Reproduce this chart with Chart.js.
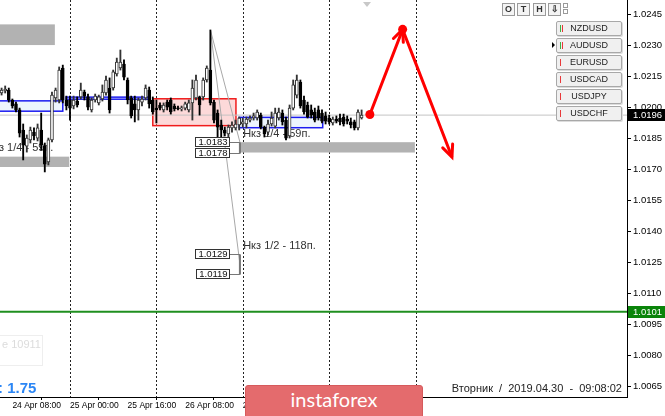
<!DOCTYPE html>
<html>
<head>
<meta charset="utf-8">
<script src="https://cdn.jsdelivr.net/npm/chart.js@4.4.1/dist/chart.umd.min.js"></script>
<style>
html, body { margin: 0; padding: 0; background: #fff; }
#wrap { position: relative; width: 665px; height: 416px; overflow: hidden; font-family: "Liberation Sans", Arial, sans-serif; }
#chart { position: absolute; left: 0; top: 0; }
.ov { position: absolute; pointer-events: none; }
.tb { position: absolute; top: 3px; width: 11px; height: 11px; border: 1px solid #9a9a9a; background: #f4f4f4; font: bold 9px "Liberation Sans", Arial; color: #333; text-align: center; line-height: 11px; }
.sq { position: absolute; left: 563px; width: 3px; height: 3px; border: 1px solid #9a9a9a; background: #fff; }
.pair { position: absolute; left: 556px; width: 64px; height: 13px; border: 1px solid #a8a8a8; border-radius: 2px; background: #f0f0f0; font: 9px "Liberation Sans", Arial; color: #222; line-height: 13px; text-align: center; box-shadow: 1px 1px 0 #dcdcdc; }
.pair i { position: absolute; top: 3px; width: 1px; height: 7px; }
.pair .g { background: #3cb043; }
.pair .r { background: #e8393a; }
</style>
</head>
<body>
<div id="wrap">
  <canvas id="chart" width="665" height="416"></canvas>

  <div class="ov" style="left:363px;top:2px;width:0;height:0;border-left:4px solid transparent;border-right:4px solid transparent;border-top:5px solid #c8c8c8;"></div>

  <div class="tb" style="left:502px">O</div>
  <div class="tb" style="left:517px">T</div>
  <div class="tb" style="left:533px">H</div>
  <div class="tb" style="left:548px">&#8681;</div>
  <div class="sq" style="top:3px"></div>
  <div class="sq" style="top:9px"></div>

  <div class="pair" style="top:21px"><i class="g" style="left:3px"></i><i class="r" style="left:5px"></i>NZDUSD</div>
  <div class="ov" style="left:552px;top:42px;width:0;height:0;border-left:3px solid #000;border-top:3px solid transparent;border-bottom:3px solid transparent;"></div>
  <div class="pair" style="top:38px"><i class="g" style="left:3px"></i><i class="r" style="left:5px"></i>AUDUSD</div>
  <div class="pair" style="top:55px"><i class="r" style="left:3px"></i>EURUSD</div>
  <div class="pair" style="top:72px"><i class="r" style="left:3px"></i>USDCAD</div>
  <div class="pair" style="top:89px"><i class="r" style="left:3px"></i>USDJPY</div>
  <div class="pair" style="top:106px"><i class="r" style="left:3px"></i>USDCHF</div>

  <div class="ov" style="left:-1px;top:335px;width:42px;height:29px;border:1px solid #eeeeee;"></div>
  <div class="ov" style="left:2px;top:338px;font:11px 'Liberation Sans',Arial;color:#dcdcdc;">e 10911</div>
  <div class="ov" style="left:-2px;top:379px;font:bold 15px 'Liberation Sans',Arial;color:#2b86f5;">: 1.75</div>

  <div class="ov" style="right:43px;top:382px;font:11px 'Liberation Sans',Arial;color:#222;white-space:pre;">Вторник  /  2019.04.30  -  09:08:02</div>

  <div class="ov" style="left:245px;top:385px;width:176px;height:34px;background:#e46b6d;border:1px solid #d65a5c;border-radius:3px;color:#fff;font:20px Lato,'Open Sans',sans-serif;text-align:center;line-height:27px;">instaforex</div>
</div>

<script>
// hourly bars, USDCHF H1
const sessions = [
    ['24 Apr', 5, 23],
    ['25 Apr', 0, 23],
    ['26 Apr', 0, 23],
    ['29 Apr', 0, 23],
    ['30 Apr', 0, 23],
    ['01 May', 0, 23]
];
const barTimes = [];
sessions.forEach(([day, from, to]) => {
    for (let h = from; h <= to; h++) barTimes.push(day + ' ' + String(h).padStart(2, '0') + ':00');
});

const open = [
    1.02068, 1.02078, 1.02082, 1.02034, 1.02015, 1.01986, 1.01889, 1.01811, 1.01841, 1.01879,
    1.01850, 1.01889, 1.01811, 1.01734, 1.01841, 1.02044, 1.02034, 1.02189, 1.02034, 1.02034,
    1.02005, 1.02029, 1.02049, 1.02073, 1.02049, 1.01986, 1.02034, 1.02020, 1.02039, 1.02068,
    1.02092, 1.02092, 1.02160, 1.02189, 1.02208, 1.02131, 1.02044, 1.02015, 1.01986, 1.02024,
    1.02044, 1.02082, 1.02034, 1.01995, 1.02010, 1.01986, 1.02024, 1.02034, 1.02005, 1.01995,
    1.01991, 1.01995, 1.01986, 1.02020, 1.02044, 1.02049, 1.02049, 1.02131, 1.02179, 1.02024,
    1.01971, 1.01913, 1.01889, 1.01870, 1.01899, 1.01899, 1.01913, 1.01918, 1.01918, 1.01937,
    1.01947, 1.01947, 1.01961, 1.01903, 1.01879, 1.01918, 1.01908, 1.01947, 1.01971, 1.01937,
    1.01860, 1.01995, 1.02058, 1.02121, 1.02034, 1.02010, 1.01986, 1.01976, 1.01986, 1.01971,
    1.01957, 1.01947, 1.01923, 1.01942, 1.01947, 1.01952, 1.01942, 1.01928, 1.01928, 1.01899,
    1.01947
];
const high = [
    1.02092, 1.02102, 1.02092, 1.02039, 1.02024, 1.01995, 1.01918, 1.01865, 1.01903, 1.01899,
    1.01918, 1.01971, 1.01826, 1.01850, 1.02073, 1.02092, 1.02194, 1.02203, 1.02053, 1.02053,
    1.02053, 1.02049, 1.02116, 1.02082, 1.02063, 1.02044, 1.02063, 1.02058, 1.02107, 1.02150,
    1.02141, 1.02179, 1.02237, 1.02276, 1.02228, 1.02141, 1.02053, 1.02053, 1.02044, 1.02053,
    1.02107, 1.02097, 1.02049, 1.02034, 1.02020, 1.02020, 1.02034, 1.02044, 1.02015, 1.02005,
    1.02005, 1.02024, 1.02034, 1.02131, 1.02155, 1.02053, 1.02141, 1.02199, 1.02373, 1.02034,
    1.01986, 1.01937, 1.01903, 1.01913, 1.01928, 1.01937, 1.01952, 1.01947, 1.01952, 1.01957,
    1.01971, 1.01986, 1.01971, 1.01908, 1.01937, 1.01976, 1.01995, 1.01995, 1.01986, 1.01952,
    1.02010, 1.02131, 1.02155, 1.02131, 1.02053, 1.02024, 1.02010, 1.01995, 1.02005, 1.01986,
    1.01976, 1.01961, 1.01952, 1.01957, 1.01966, 1.01966, 1.01957, 1.01947, 1.01937, 1.01986,
    1.01986
];
const low = [
    1.02058, 1.02068, 1.02024, 1.01995, 1.01976, 1.01855, 1.01744, 1.01782, 1.01826, 1.01841,
    1.01836, 1.01792, 1.01686, 1.01720, 1.01831, 1.02024, 1.02020, 1.02020, 1.01986, 1.01937,
    1.01991, 1.02000, 1.02039, 1.02034, 1.01986, 1.01976, 1.02024, 1.02010, 1.02029, 1.02058,
    1.01971, 1.02082, 1.02150, 1.02179, 1.02131, 1.02015, 1.01947, 1.01928, 1.01937, 1.02005,
    1.02034, 1.01995, 1.01966, 1.01923, 1.01986, 1.01976, 1.01986, 1.01966, 1.01981, 1.01986,
    1.01981, 1.01986, 1.01976, 1.01937, 1.02034, 1.01961, 1.02034, 1.02121, 1.02010, 1.01923,
    1.01855, 1.01841, 1.01860, 1.01850, 1.01879, 1.01889, 1.01889, 1.01903, 1.01899, 1.01928,
    1.01937, 1.01937, 1.01894, 1.01855, 1.01865, 1.01908, 1.01899, 1.01937, 1.01913, 1.01841,
    1.01850, 1.01986, 1.02044, 1.01995, 1.01966, 1.01947, 1.01947, 1.01928, 1.01937, 1.01923,
    1.01918, 1.01918, 1.01913, 1.01923, 1.01913, 1.01908, 1.01918, 1.01899, 1.01889, 1.01889,
    1.01942
];
const close = [
    1.02082, 1.02087, 1.02034, 1.02005, 1.01986, 1.01874, 1.01816, 1.01850, 1.01889, 1.01860,
    1.01899, 1.01816, 1.01724, 1.01841, 1.02058, 1.02082, 1.02179, 1.02034, 1.02005, 1.01995,
    1.02034, 1.02010, 1.02082, 1.02053, 1.02000, 1.02034, 1.02053, 1.02049, 1.02073, 1.02131,
    1.01986, 1.02170, 1.02218, 1.02218, 1.02145, 1.02034, 1.01957, 1.01986, 1.02034, 1.02039,
    1.02092, 1.02015, 1.01976, 1.01986, 1.01995, 1.02010, 1.02000, 1.01976, 1.01991, 1.01991,
    1.01995, 1.02015, 1.02020, 1.02092, 1.02131, 1.02010, 1.02131, 1.02189, 1.02020, 1.01937,
    1.01903, 1.01889, 1.01874, 1.01903, 1.01913, 1.01918, 1.01947, 1.01928, 1.01942, 1.01947,
    1.01957, 1.01976, 1.01903, 1.01870, 1.01918, 1.01947, 1.01971, 1.01976, 1.01928, 1.01850,
    1.01995, 1.02107, 1.02131, 1.02005, 1.01976, 1.01952, 1.01961, 1.01937, 1.01947, 1.01932,
    1.01932, 1.01928, 1.01942, 1.01932, 1.01928, 1.01918, 1.01932, 1.01913, 1.01899, 1.01976,
    1.01961
];

const xTickLabels = ['24 Apr 08:00', '25 Apr 00:00', '25 Apr 16:00', '26 Apr 08:00', '29 Apr 00:00', '29 Apr 16:00', '30 Apr 08:00'];
const yTicks = [1.0065, 1.0080, 1.0095, 1.0110, 1.0125, 1.0140, 1.0155, 1.0170, 1.0185, 1.0200, 1.0215, 1.0230, 1.0245];
const xMin = -0.44, xMax = 173.72;
const yMin = 1.00597, yMax = 1.02518;

const bidPrice = 1.01961;
const greenLevel = 1.0101;

// marked zones: bar range + price range
const zones = [
    { x0: -5, x1: 14.8, top: 1.0240, bottom: 1.0230, fill: '#b2b2b2', stroke: null },
    { x0: -5, x1: 17.0, top: 1.0203, bottom: 1.0198, fill: '#edf5fd', stroke: '#1c1cf0' },
    { x0: -5, x1: 18.8, top: 1.0176, bottom: 1.0171, fill: '#b2b2b2', stroke: null },
    { x0: 17.9, x1: 41.2, top: 1.02048, bottom: 1.02038, fill: '#edf5fd', stroke: '#1c1cf0' },
    { x0: 42.0, x1: 65.1, top: 1.0204, bottom: 1.0191, fill: 'rgba(250,160,160,0.4)', stroke: '#f01c1c' },
    { x0: 66.0, x1: 89.2, top: 1.0195, bottom: 1.0190, fill: '#edf5fd', stroke: '#1c1cf0' },
    { x0: 66.0, x1: 114.8, top: 1.0183, bottom: 1.0178, fill: '#b2b2b2', stroke: null }
];
const notes = [
    { x: -4.3, y: 1.0180, text: 'Нкз 1/4 - 59п.' },
    { x: 67.1, y: 1.0187, text: 'Нкз 1/4 - 59п.' },
    { x: 67.1, y: 1.0133, text: 'Нкз 1/2 - 118п.' }
];
const priceTags = [1.0183, 1.0178, 1.0129, 1.0119];
const tagEdge = 63.3, bracketEdge = 66.2;
const brackets = [[1.0183, 1.0178], [1.0129, 1.0119]];

const trendStart = { x: 58, y: 1.02373 };
const trendEnds = [{ x: 66.2, y: 1.0183 }, { x: 66.2, y: 1.0124 }];

const arrowX = [102.3, 111.4, 125.1];
const arrowY = [1.01964, 1.02376, 1.01758];

const separators = barTimes.filter(t => t.endsWith('00:00') && t !== barTimes[0]);

const bull = close.map((c, i) => c >= open[i]);
const bodies = open.map((o, i) => ({ x: i, y: [o, close[i]] }));
const wicks = low.map((l, i) => ({ x: i, y: [l, high[i]] }));

const FONT = '"Liberation Sans", Arial, sans-serif';

const overlay = {
    id: 'overlay',
    beforeDatasetsDraw(chart) {
        const { ctx, chartArea: a, scales: { x, y } } = chart;
        ctx.save();
        ctx.beginPath();
        ctx.rect(a.left, a.top, a.right - a.left, a.bottom - a.top);
        ctx.clip();

        ctx.strokeStyle = '#222';
        ctx.lineWidth = 1;
        ctx.setLineDash([2, 2]);
        separators.forEach(t => {
            const px = Math.round(x.getPixelForValue(barTimes.indexOf(t))) + 0.5;
            ctx.beginPath();
            ctx.moveTo(px, a.top);
            ctx.lineTo(px, a.bottom);
            ctx.stroke();
        });
        ctx.setLineDash([]);

        zones.forEach(z => {
            const l = x.getPixelForValue(z.x0), r = x.getPixelForValue(z.x1);
            const t = y.getPixelForValue(z.top), b = y.getPixelForValue(z.bottom);
            ctx.fillStyle = z.fill;
            ctx.fillRect(l, t, r - l, b - t);
            if (z.stroke) {
                ctx.strokeStyle = z.stroke;
                ctx.lineWidth = 1.5;
                ctx.strokeRect(l, t, r - l, b - t);
            }
        });

        ctx.fillStyle = '#333';
        ctx.font = '11px ' + FONT;
        ctx.textBaseline = 'middle';
        ctx.textAlign = 'left';
        notes.forEach(n => ctx.fillText(n.text, x.getPixelForValue(n.x), y.getPixelForValue(n.y)));
        ctx.restore();
    },
    afterDatasetsDraw(chart) {
        const { ctx, scales: { x, y } } = chart;
        ctx.save();
        const right = x.getPixelForValue(tagEdge);
        const bx = x.getPixelForValue(bracketEdge);

        ctx.strokeStyle = '#777';
        ctx.lineWidth = 1;
        brackets.forEach(([p1, p2]) => {
            const y1 = Math.round(y.getPixelForValue(p1)) + 0.5, y2 = Math.round(y.getPixelForValue(p2)) + 0.5;
            ctx.beginPath();
            ctx.moveTo(right, y1);
            ctx.lineTo(bx, y1);
            ctx.lineTo(bx, y2);
            ctx.lineTo(right, y2);
            ctx.stroke();
            ctx.lineWidth = 2;
            ctx.beginPath();
            ctx.moveTo(bx, y1);
            ctx.lineTo(bx, y2);
            ctx.stroke();
            ctx.lineWidth = 1;
        });

        ctx.font = '9.5px ' + FONT;
        ctx.textBaseline = 'middle';
        ctx.textAlign = 'center';
        priceTags.forEach(p => {
            const label = p.toFixed(4);
            const w = Math.ceil(ctx.measureText(label).width) + 4;
            const cy = Math.round(y.getPixelForValue(p));
            ctx.fillStyle = '#fff';
            ctx.fillRect(right - w, cy - 5, w, 10);
            ctx.strokeStyle = '#333';
            ctx.strokeRect(Math.round(right - w) + 0.5, cy - 4.5, w, 9);
            ctx.fillStyle = '#111';
            ctx.fillText(label, right - w / 2 + 0.5, cy + 0.5);
        });

        // arrow heads on the forecast path
        const pts = arrowX.map((v, i) => ({ x: x.getPixelForValue(v), y: y.getPixelForValue(arrowY[i]) }));
        ctx.strokeStyle = '#ff0000';
        ctx.lineWidth = 3;
        ctx.lineCap = 'round';
        [[pts[0], pts[1]], [pts[1], pts[2]]].forEach(([p0, p1]) => {
            const ang = Math.atan2(p1.y - p0.y, p1.x - p0.x);
            ctx.beginPath();
            ctx.moveTo(p1.x - 13 * Math.cos(ang - 0.42), p1.y - 13 * Math.sin(ang - 0.42));
            ctx.lineTo(p1.x, p1.y);
            ctx.lineTo(p1.x - 13 * Math.cos(ang + 0.42), p1.y - 13 * Math.sin(ang + 0.42));
            ctx.stroke();
        });
        ctx.restore();
    },
    afterDraw(chart) {
        const { ctx, chartArea: a, scales: { y } } = chart;
        ctx.save();
        ctx.font = '9.5px ' + FONT;
        ctx.textBaseline = 'middle';
        ctx.textAlign = 'left';
        [[bidPrice, '#000000'], [greenLevel, '#0a840a']].forEach(([p, bg]) => {
            const cy = Math.round(y.getPixelForValue(p));
            ctx.fillStyle = bg;
            ctx.fillRect(a.right + 1, cy - 6, 37, 12);
            ctx.fillStyle = '#fff';
            ctx.fillText(p.toFixed(4), a.right + 6, cy + 0.5);
        });
        ctx.restore();
    }
};

new Chart(document.getElementById('chart'), {
    type: 'bar',
    data: {
        datasets: [
            {
                type: 'line',
                data: arrowX.map((v, i) => ({ x: v, y: arrowY[i] })),
                borderColor: '#ff0000',
                borderWidth: 3,
                pointRadius: [4.5, 4.5, 0],
                pointBackgroundColor: '#ff0000',
                pointBorderWidth: 0,
                tension: 0,
                order: 0
            },
            {
                data: bodies,
                backgroundColor: bull.map(b => b ? '#ffffff' : '#000000'),
                borderColor: bull.map(b => b ? '#333333' : '#000000'),
                borderWidth: 1,
                borderSkipped: false,
                barThickness: 3,
                minBarLength: 1,
                grouped: false,
                order: 1
            },
            {
                data: wicks,
                backgroundColor: bull.map(b => b ? '#333333' : '#000000'),
                borderWidth: 0,
                barThickness: 1.2,
                grouped: false,
                order: 2
            },
            ...trendEnds.map(e => ({
                type: 'line',
                data: [trendStart, e],
                borderColor: '#a8a8a8',
                borderWidth: 1,
                pointRadius: 0,
                order: 3
            })),
            {
                type: 'line',
                data: [{ x: xMin, y: bidPrice }, { x: xMax, y: bidPrice }],
                borderColor: '#c4c4c4',
                borderWidth: 1,
                pointRadius: 0,
                order: 4
            },
            {
                type: 'line',
                data: [{ x: xMin, y: greenLevel }, { x: xMax, y: greenLevel }],
                borderColor: '#1f8f1f',
                borderWidth: 2,
                pointRadius: 0,
                order: 4
            }
        ]
    },
    options: {
        responsive: false,
        animation: false,
        devicePixelRatio: 1,
        layout: { padding: 0, autoPadding: false },
        plugins: {
            legend: { display: false },
            tooltip: { enabled: false }
        },
        scales: {
            x: {
                type: 'linear',
                min: xMin,
                max: xMax,
                offset: false,
                grid: { drawOnChartArea: false, drawTicks: true, tickLength: 3, tickColor: '#000' },
                border: { display: true, color: '#000' },
                afterBuildTicks: s => { s.ticks = xTickLabels.map(l => ({ value: barTimes.indexOf(l) })); },
                ticks: {
                    autoSkip: false, maxRotation: 0, minRotation: 0, align: 'start', padding: 1,
                    color: '#000', font: { family: FONT, size: 8.5 },
                    callback: v => barTimes[v]
                },
                afterFit: s => { s.height = 19; s.paddingLeft = 0; s.paddingRight = 0; }
            },
            y: {
                position: 'right',
                min: yMin,
                max: yMax,
                grid: { drawOnChartArea: false, drawTicks: true, tickLength: 4, tickColor: '#000' },
                border: { display: true, color: '#000' },
                afterBuildTicks: s => { s.ticks = yTicks.map(v => ({ value: v })); },
                ticks: {
                    padding: 2, color: '#000', font: { family: FONT, size: 9.5 },
                    callback: v => v.toFixed(4)
                },
                afterFit: s => { s.width = 38; s.paddingTop = 0; s.paddingBottom = 0; }
            }
        }
    },
    plugins: [overlay]
});
</script>
</body>
</html>
